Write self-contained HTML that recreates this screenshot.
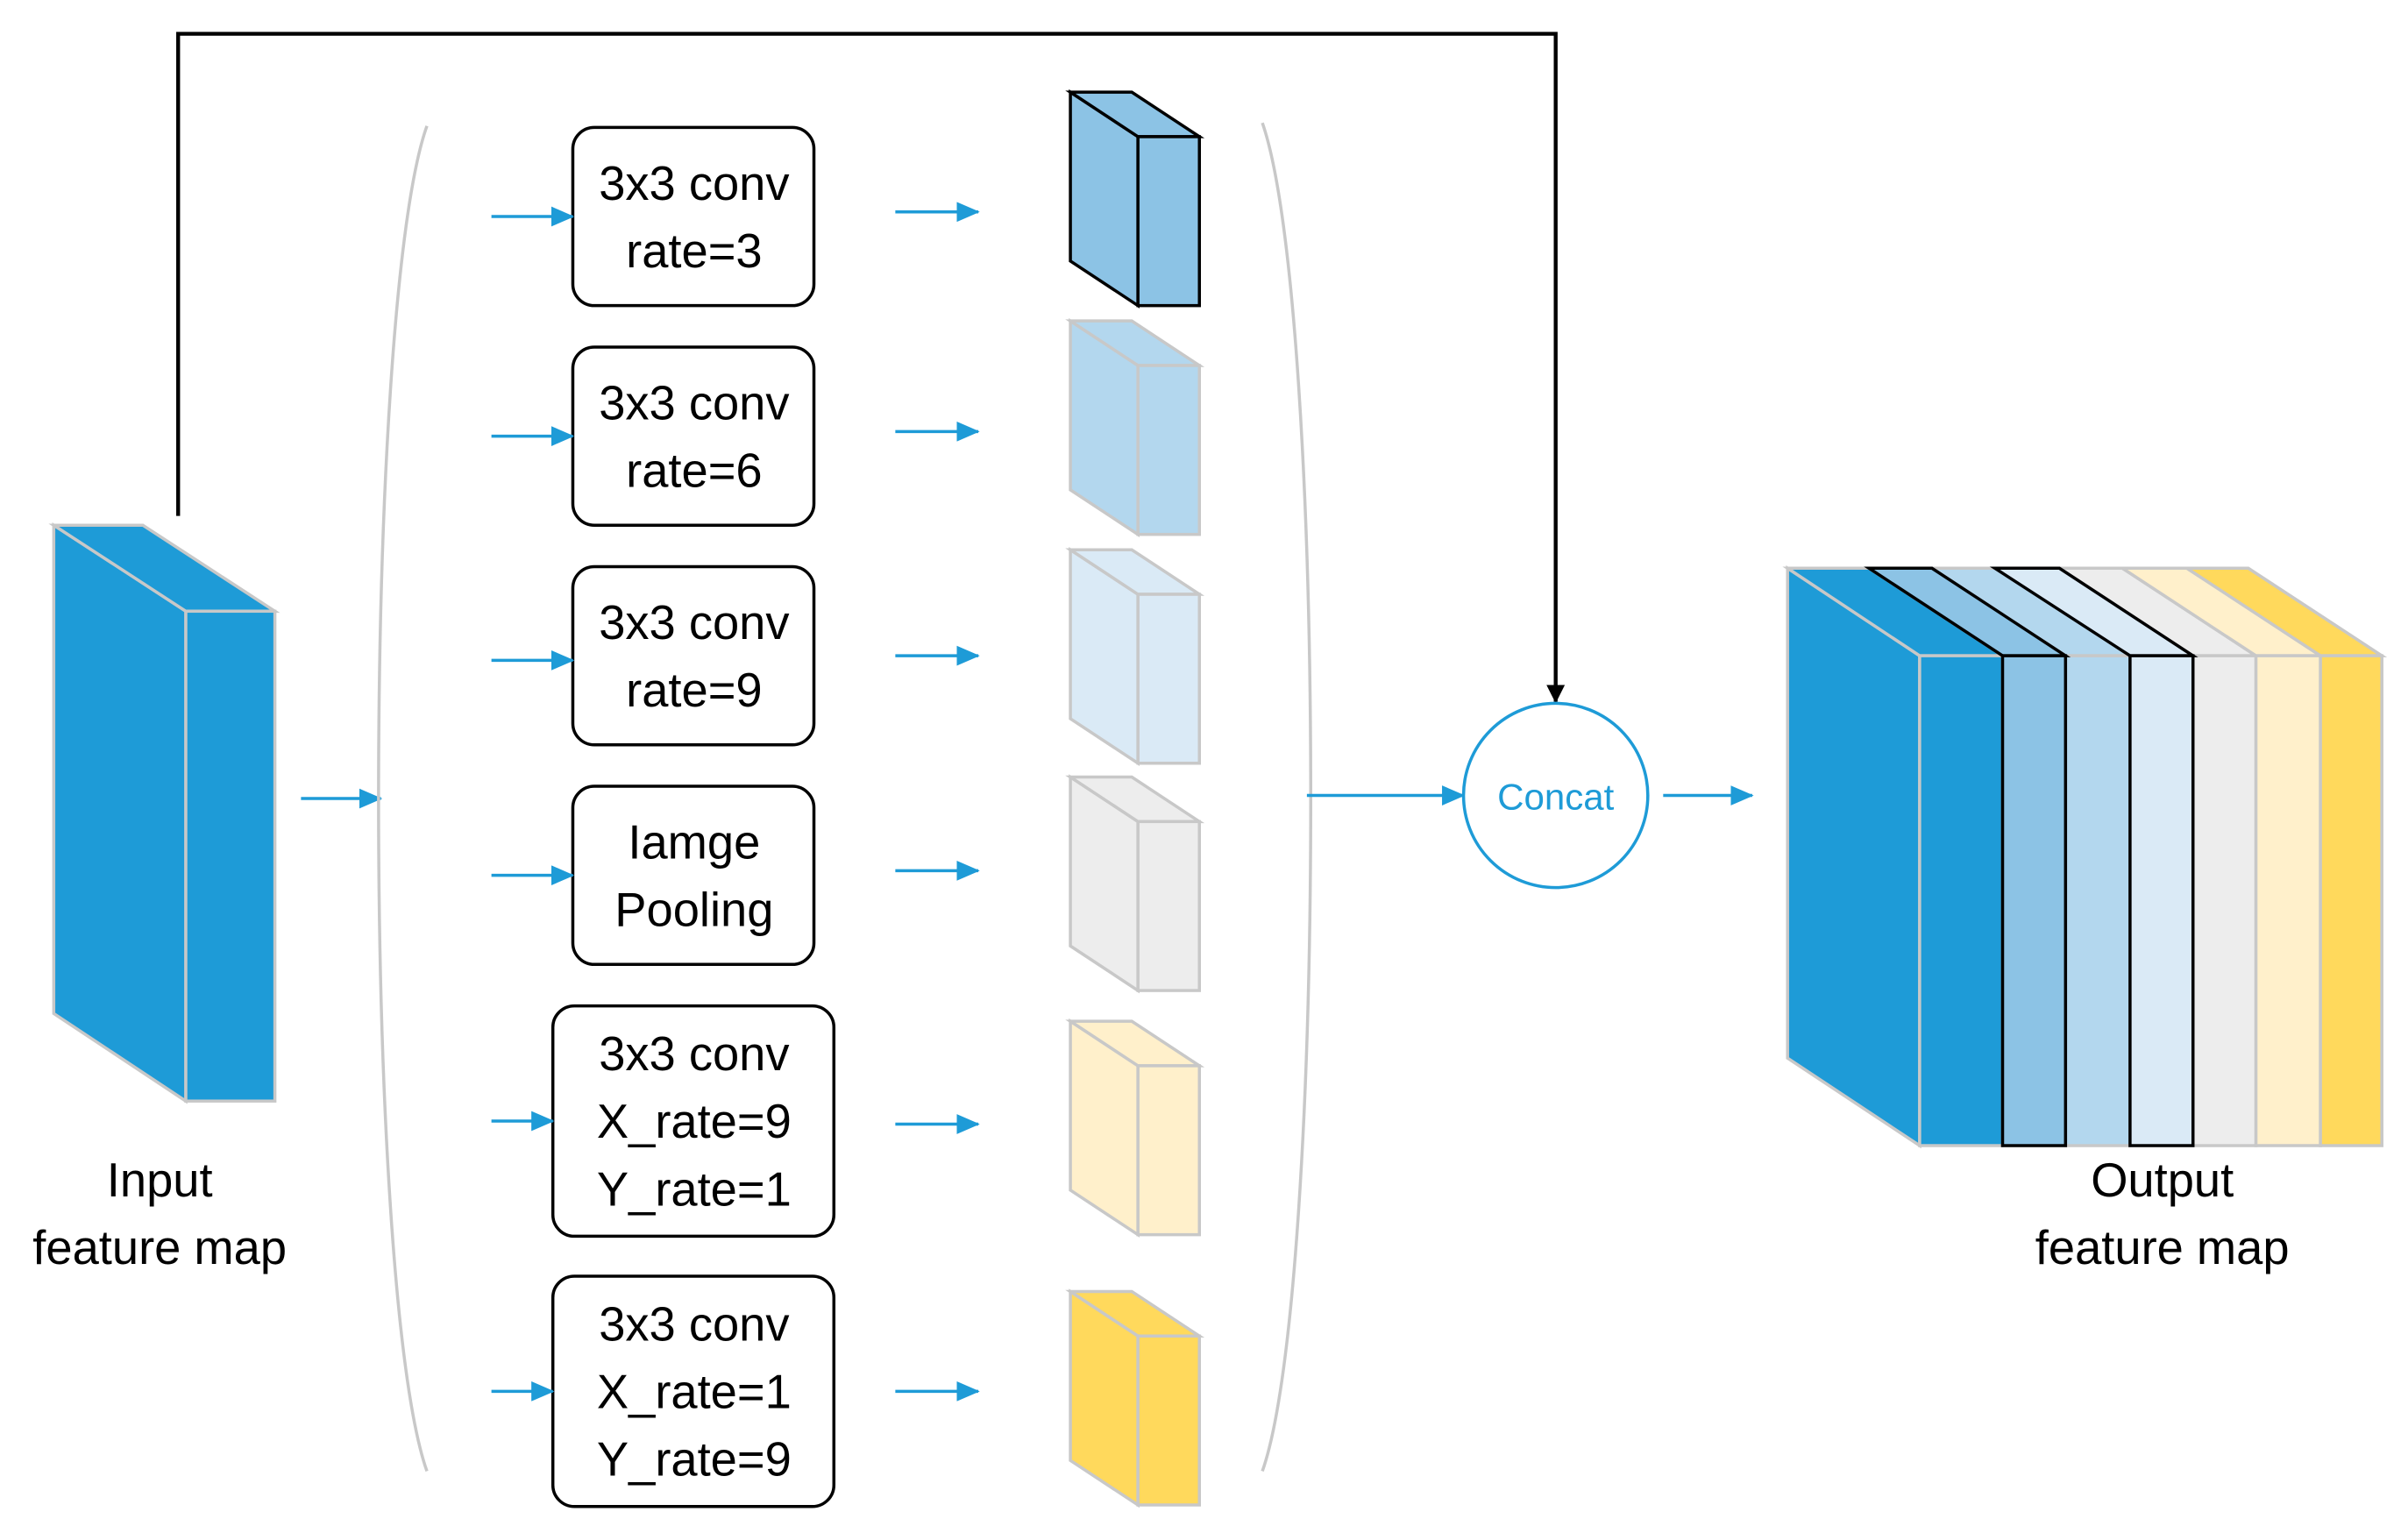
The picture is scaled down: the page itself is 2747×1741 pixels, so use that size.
<!DOCTYPE html>
<html><head><meta charset="utf-8"><style>html,body{margin:0;padding:0;background:#fff}svg{display:block}</style></head>
<body>
<svg width="2747" height="1741" viewBox="0 0 1568 993.7" preserveAspectRatio="none" xmlns="http://www.w3.org/2000/svg" font-family="Liberation Sans, sans-serif">
<defs>
<marker id="ab" markerWidth="15" markerHeight="13" refX="14" refY="6.5" orient="auto" markerUnits="userSpaceOnUse"><path d="M0,0 L15,6.5 L0,13 z" fill="#1E9BD7"/></marker>
<marker id="ak" markerWidth="12" markerHeight="12" refX="11" refY="6" orient="auto" markerUnits="userSpaceOnUse"><path d="M0,0 L12,6 L0,12 z" fill="#000"/></marker>
</defs>
<polyline points="116,336 116,22 1013,22 1013,457" fill="none" stroke="#000" stroke-width="2.5" marker-end="url(#ak)"/>
<g stroke="#C8C8C8" stroke-width="2" fill="#1E9BD7">
<polygon points="35,342 121,398 121,717 35,660"/>
<polygon points="35,342 93,342 179,398 121,398"/>
<rect x="121" y="398" width="58" height="319"/>
</g>
<text x="104" y="779" font-size="31" text-anchor="middle">Input</text>
<text x="104" y="823" font-size="31" text-anchor="middle">feature map</text>
<line x1="196" y1="520" x2="248" y2="520" stroke="#1E9BD7" stroke-width="2" marker-end="url(#ab)"/>
<path d="M278,82 C236,200 236,840 278,958" fill="none" stroke="#C8C8C8" stroke-width="2"/>
<path d="M822,80 C864,200 864,840 822,958" fill="none" stroke="#C8C8C8" stroke-width="2"/>
<g fill="#fff" stroke="#000" stroke-width="2">
<rect x="373" y="83" width="157" height="116" rx="14"/>
<rect x="373" y="226" width="157" height="116" rx="14"/>
<rect x="373" y="369" width="157" height="116" rx="14"/>
<rect x="373" y="512" width="157" height="116" rx="14"/>
<rect x="360" y="655" width="183" height="150" rx="14"/>
<rect x="360" y="831" width="183" height="150" rx="14"/>
</g>
<g font-size="31" text-anchor="middle">
<text x="452" y="130">3x3 conv</text><text x="452" y="174">rate=3</text>
<text x="452" y="273">3x3 conv</text><text x="452" y="317">rate=6</text>
<text x="452" y="416">3x3 conv</text><text x="452" y="460">rate=9</text>
<text x="452" y="559">Iamge</text><text x="452" y="603">Pooling</text>
<text x="452" y="697">3x3 conv</text><text x="452" y="741">X_rate=9</text><text x="452" y="785">Y_rate=1</text>
<text x="452" y="873">3x3 conv</text><text x="452" y="917">X_rate=1</text><text x="452" y="961">Y_rate=9</text>
</g>
<g stroke="#1E9BD7" stroke-width="2" marker-end="url(#ab)">
<line x1="320" y1="141" x2="373" y2="141"/><line x1="583" y1="138" x2="637" y2="138"/>
<line x1="320" y1="284" x2="373" y2="284"/><line x1="583" y1="281" x2="637" y2="281"/>
<line x1="320" y1="430" x2="373" y2="430"/><line x1="583" y1="427" x2="637" y2="427"/>
<line x1="320" y1="570" x2="373" y2="570"/><line x1="583" y1="567" x2="637" y2="567"/>
<line x1="320" y1="730" x2="360" y2="730"/><line x1="583" y1="732" x2="637" y2="732"/>
<line x1="320" y1="906" x2="360" y2="906"/><line x1="583" y1="906" x2="637" y2="906"/>
<line x1="851" y1="518" x2="953" y2="518"/>
<line x1="1083" y1="518" x2="1141" y2="518"/>
</g>
<g stroke-width="2">
<g fill="#8CC3E5" stroke="#000"><polygon points="697,60 741,89 741,199 697,170"/><polygon points="697,60 737,60 781,89 741,89"/><rect x="741" y="89" width="40" height="110"/></g>
<g transform="translate(0,149)" fill="#B3D7EE" stroke="#C8C8C8"><polygon points="697,60 741,89 741,199 697,170"/><polygon points="697,60 737,60 781,89 741,89"/><rect x="741" y="89" width="40" height="110"/></g>
<g transform="translate(0,298)" fill="#DAEAF6" stroke="#C8C8C8"><polygon points="697,60 741,89 741,199 697,170"/><polygon points="697,60 737,60 781,89 741,89"/><rect x="741" y="89" width="40" height="110"/></g>
<g transform="translate(0,446)" fill="#EDEDED" stroke="#C8C8C8"><polygon points="697,60 741,89 741,199 697,170"/><polygon points="697,60 737,60 781,89 741,89"/><rect x="741" y="89" width="40" height="110"/></g>
<g transform="translate(0,605)" fill="#FFF0CB" stroke="#C8C8C8"><polygon points="697,60 741,89 741,199 697,170"/><polygon points="697,60 737,60 781,89 741,89"/><rect x="741" y="89" width="40" height="110"/></g>
<g transform="translate(0,781)" fill="#FFD95C" stroke="#C8C8C8"><polygon points="697,60 741,89 741,199 697,170"/><polygon points="697,60 737,60 781,89 741,89"/><rect x="741" y="89" width="40" height="110"/></g>
</g>
<circle cx="1013" cy="518" r="60" fill="#fff" stroke="#1E9BD7" stroke-width="2"/>
<text x="1013" y="527" font-size="24" text-anchor="middle" fill="#1E9BD7">Concat</text>
<g stroke-width="2">
<g fill="#1E9BD7" stroke="#C8C8C8">
<polygon points="1164,370 1250,427 1250,746 1164,689"/>
<polygon points="1164,370 1217,370 1304,427 1250,427"/>
<rect x="1250" y="427" width="54" height="319"/>
</g>
<g stroke="#C8C8C8">
<polygon fill="#B3D7EE" points="1258,370 1299,370 1387,427 1345,427"/><rect fill="#B3D7EE" x="1345" y="427" width="42" height="319"/>
<polygon fill="#EDEDED" points="1341,370 1382,370 1469,427 1428,427"/><rect fill="#EDEDED" x="1428" y="427" width="41" height="319"/>
<polygon fill="#FFF0CB" points="1382,370 1424,370 1511,427 1469,427"/><rect fill="#FFF0CB" x="1469" y="427" width="42" height="319"/>
<polygon fill="#FFD95C" points="1424,370 1464,370 1551,427 1511,427"/><rect fill="#FFD95C" x="1511" y="427" width="40" height="319"/>
</g>
<g stroke="#000">
<polygon fill="#8CC3E5" points="1217,370 1258,370 1345,427 1304,427"/><rect fill="#8CC3E5" x="1304" y="427" width="41" height="319"/>
<polygon fill="#DAEAF6" points="1299,370 1341,370 1428,427 1387,427"/><rect fill="#DAEAF6" x="1387" y="427" width="41" height="319"/>
</g>
</g>
<text x="1408" y="779" font-size="31" text-anchor="middle">Output</text>
<text x="1408" y="823" font-size="31" text-anchor="middle">feature map</text>
</svg>
</body></html>
